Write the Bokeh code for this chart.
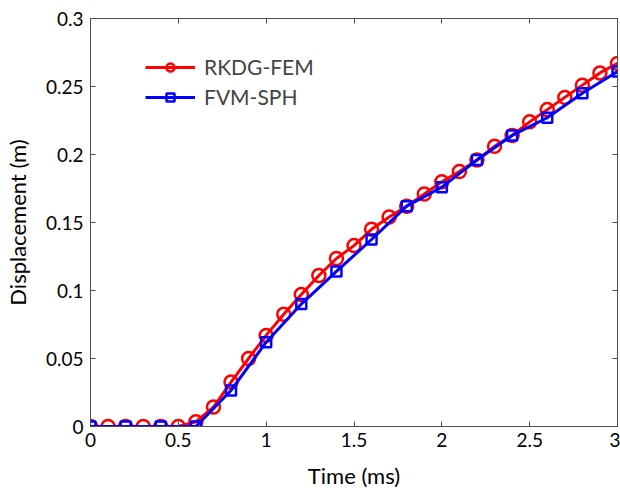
from bokeh.plotting import figure
from bokeh.models import LinearAxis, Range1d, FixedTicker, Legend, LegendItem
from bokeh.embed import file_html
from bokeh.resources import INLINE

# Data
t_red = [0.0, 0.1, 0.2, 0.3, 0.4, 0.5, 0.6, 0.7, 0.8, 0.9, 1.0, 1.1, 1.2, 1.3, 1.4, 1.5,
         1.6, 1.7, 1.8, 1.9, 2.0, 2.1, 2.2, 2.3, 2.4, 2.5, 2.6, 2.7, 2.8, 2.9, 3.0]
rkdg_fem = [0.0, 0.0, 0.0, 0.0, 0.0, 0.0, 0.0035, 0.0143, 0.0327, 0.050, 0.067, 0.0825,
            0.097, 0.111, 0.1235, 0.133, 0.145, 0.154, 0.162, 0.171, 0.180, 0.1875,
            0.196, 0.206, 0.214, 0.224, 0.233, 0.242, 0.251, 0.260, 0.267]
t_blue = [0.0, 0.2, 0.4, 0.6, 0.8, 1.0, 1.2, 1.4, 1.6, 1.8, 2.0, 2.2, 2.4, 2.6, 2.8, 3.0]
fvm_sph = [0.0, 0.0, 0.0, 0.0, 0.0265, 0.062, 0.090, 0.114, 0.1375, 0.162, 0.176,
           0.196, 0.214, 0.227, 0.245, 0.261]

x_ticks = [0, 0.5, 1, 1.5, 2, 2.5, 3]
x_tick_labels = ["0", "0.5", "1", "1.5", "2", "2.5", "3"]
y_ticks = [0, 0.05, 0.1, 0.15, 0.2, 0.25, 0.3]
y_tick_labels = ["0", "0.05", "0.1", "0.15", "0.2", "0.25", "0.3"]

FONT = "Lato"
AX = "#4d4d4d"

p = figure(width=620, height=491, output_backend="svg", toolbar_location=None,
           x_range=Range1d(0, 3), y_range=Range1d(0, 0.3),
           min_border_left=87, min_border_right=3, min_border_top=18, min_border_bottom=65)
p.xgrid.visible = False
p.ygrid.visible = False
p.outline_line_color = AX
p.outline_line_width = 1
p.background_fill_color = "white"
p.border_fill_color = "white"

def style(ax):
    ax.axis_line_color = AX
    ax.major_tick_line_color = AX
    ax.major_tick_in = 5
    ax.major_tick_out = 0
    ax.minor_tick_line_color = None
    ax.major_label_text_font = FONT
    ax.major_label_text_font_size = "19px"
    ax.major_label_text_color = "black"
    ax.axis_label_text_font = FONT
    ax.axis_label_text_font_size = "22px"
    ax.axis_label_text_font_style = "normal"
    ax.axis_label_text_color = "black"

xa = p.xaxis[0]
ya = p.yaxis[0]
xa.ticker = FixedTicker(ticks=x_ticks)
ya.ticker = FixedTicker(ticks=y_ticks)
xa.major_label_overrides = dict(zip(x_ticks, x_tick_labels))
ya.major_label_overrides = dict(zip(y_ticks, y_tick_labels))
xa.axis_label = "Time (ms)"
ya.axis_label = "Displacement (m)"
style(xa)
style(ya)
xa.major_label_standoff = 6
ya.major_label_standoff = 7
xa.axis_label_standoff = 12
ya.axis_label_standoff = 12

top = LinearAxis(ticker=FixedTicker(ticks=x_ticks))
right = LinearAxis(ticker=FixedTicker(ticks=y_ticks))
style(top)
style(right)
top.major_label_overrides = {t: "" for t in x_ticks}
right.major_label_overrides = {t: "" for t in y_ticks}
top.major_label_standoff = 0
right.major_label_standoff = 0
p.add_layout(top, "above")
p.add_layout(right, "right")

r_line = p.line(t_red, rkdg_fem, line_color="#ff0000", line_width=3)
r_pts = p.scatter(t_red, rkdg_fem, marker="circle", size=13, fill_color=None,
                  line_color="#ff0000", line_width=2.5)
b_line = p.line(t_blue, fvm_sph, line_color="#0000ff", line_width=3)
b_pts = p.scatter(t_blue, fvm_sph, marker="square", size=10, fill_color=None,
                  line_color="#0000ff", line_width=2.5)

legend = Legend(items=[LegendItem(label="RKDG-FEM", renderers=[r_line, r_pts]),
                       LegendItem(label="FVM-SPH", renderers=[b_line, b_pts])])
legend.glyph_width = 50
legend.glyph_height = 20
legend.label_text_font = FONT
legend.label_text_font_size = "21px"
legend.label_standoff = 9
legend.spacing = 5
legend.border_line_color = None
legend.background_fill_alpha = 0
legend.margin = 0
legend.padding = 0
legend.location = (55, 317)
p.add_layout(legend)

open("out.html", "w").write(file_html(p, INLINE))
